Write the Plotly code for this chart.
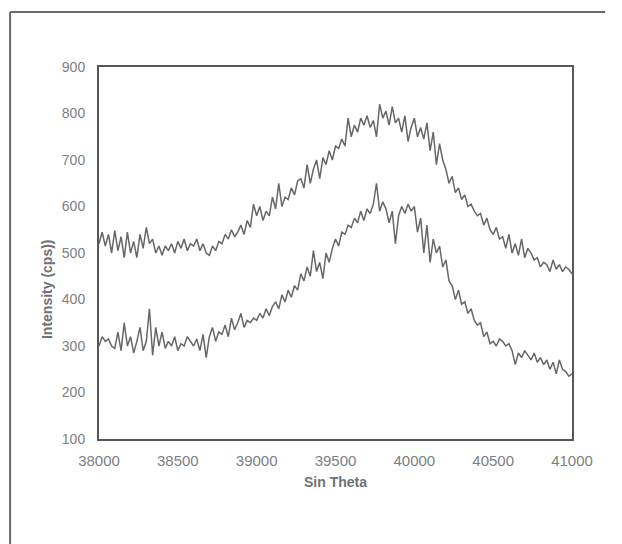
import plotly.graph_objects as go

# Sin Theta sampling positions (step 20)
x_start = 38000
x_step = 20

upper = [
    520, 545, 515, 540, 500, 548, 505, 535, 490, 545,
    500, 525, 490, 540, 510, 555, 520, 530, 500, 515,
    495, 515, 505, 520, 500, 525, 510, 530, 505, 520,
    515, 530, 505, 520, 500, 495, 515, 505, 525, 520,
    540, 530, 550, 535, 545, 560, 540, 570, 555, 605,
    580, 600, 570, 590, 580, 620, 595, 650, 600, 620,
    615, 640, 625, 655, 660, 640, 690, 650, 680, 700,
    660, 705, 690, 720, 700, 730, 725, 745, 730, 790,
    750, 775, 760, 790, 775, 795, 770, 785, 750, 820,
    790, 805, 775, 815, 780, 790, 760, 795, 740, 770,
    790, 750, 770, 745, 780, 720, 760, 690, 735, 700,
    680, 650, 665, 630, 640, 615, 625, 600, 605, 590,
    580, 585, 560, 575, 550, 540, 555, 530, 535, 510,
    540, 500, 520, 495, 530, 490, 510, 500, 485, 490,
    470, 480, 475, 460, 485, 465, 475, 460, 470, 465,
    455,
]

lower = [
    300, 320, 310, 315, 300, 295, 330, 290, 350, 300,
    320, 285, 310, 340, 290, 310, 380, 280, 340, 300,
    330, 295, 310, 300, 320, 290, 305, 300, 320, 310,
    300, 315, 290, 325, 275, 320, 340, 310, 330, 325,
    345, 320, 360, 335, 350, 370, 340, 355, 350, 360,
    355, 370, 360, 380, 365, 385, 395, 380, 410, 395,
    420, 405, 430, 420, 455, 440, 470, 450, 505, 460,
    480, 445, 500, 480, 510, 530, 515, 545, 540, 560,
    555, 575, 565, 590, 570, 595, 585, 605, 650, 590,
    610, 595, 565, 590, 520, 580, 600, 585, 605, 590,
    600, 545, 575, 500, 560, 480, 530, 500, 515, 470,
    485, 440, 430, 400, 420, 390, 395, 370, 380, 355,
    345, 350, 320, 330, 305, 310, 300, 315, 310, 300,
    305, 290, 260, 285, 275, 290, 280, 270, 285, 265,
    275, 260, 270, 250, 265, 240, 270, 250, 245, 235,
    240,
]

x_vals = [x_start + i * x_step for i in range(len(upper))]

x_ticks = [38000, 38500, 39000, 39500, 40000, 40500, 41000]
y_ticks = [100, 200, 300, 400, 500, 600, 700, 800, 900]

line_style = dict(color="#676767", width=1.5)

fig = go.Figure()
fig.add_trace(go.Scatter(x=x_vals, y=upper, mode="lines", line=line_style,
                         showlegend=False, hoverinfo="skip"))
fig.add_trace(go.Scatter(x=x_vals, y=lower, mode="lines", line=line_style,
                         showlegend=False, hoverinfo="skip"))

font_family = "Arial, Liberation Sans, sans-serif"
label_color = "#7c7f84"
title_color = "#6f7175"

fig.update_layout(
    width=622,
    height=544,
    margin=dict(l=99, r=50, t=67, b=105),
    paper_bgcolor="white",
    plot_bgcolor="white",
    xaxis=dict(
        range=[38000, 41000],
        tickvals=x_ticks,
        ticktext=[str(v) for v in x_ticks],
        showgrid=False,
        zeroline=False,
        showline=True,
        linecolor="#55585c",
        linewidth=2,
        mirror=True,
        ticks="",
        ticklabelstandoff=7,
        tickfont=dict(family=font_family, size=15, color=label_color),
    ),
    yaxis=dict(
        range=[100, 900],
        tickvals=y_ticks,
        ticktext=[str(v) for v in y_ticks],
        showgrid=False,
        zeroline=False,
        showline=True,
        linecolor="#55585c",
        linewidth=2,
        mirror=True,
        ticks="",
        ticklabelstandoff=9,
        tickfont=dict(family=font_family, size=14, color=label_color),
    ),
    annotations=[
        dict(text="<b>Sin Theta</b>", xref="paper", yref="paper",
             x=0.5, y=-0.1156, showarrow=False,
             xanchor="center", yanchor="middle",
             font=dict(family=font_family, size=14, color=title_color)),
        dict(text="<b>Intensity (cps))</b>", xref="paper", yref="paper",
             x=-0.110, y=0.403, showarrow=False, textangle=-90,
             xanchor="center", yanchor="middle",
             font=dict(family=font_family, size=14, color=title_color)),
    ],
    shapes=[
        # outer frame: top and left edges
        dict(type="line", xref="paper", yref="paper",
             x0=-0.188, y0=1.148, x1=1.07, y1=1.148,
             line=dict(color="#6a6a6a", width=2)),
        dict(type="line", xref="paper", yref="paper",
             x0=-0.188, y0=1.148, x1=-0.188, y1=-0.29,
             line=dict(color="#6a6a6a", width=2)),
    ],
)

fig.write_html("out.html")
